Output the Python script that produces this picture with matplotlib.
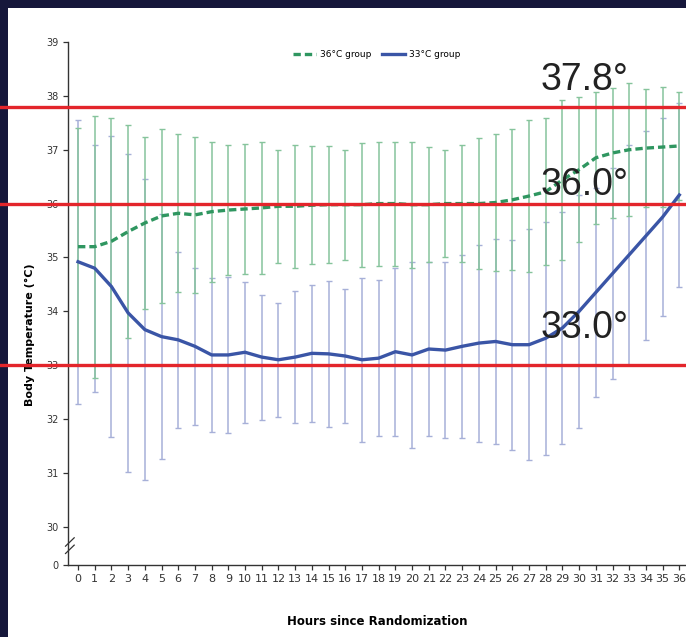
import matplotlib.pyplot as plt
from matplotlib.patches import Rectangle

# hours since randomization
hours = list(range(37))

# 36 C group: mean and SD
warm_mean = [35.20, 35.20, 35.30, 35.48, 35.64, 35.77, 35.82, 35.79, 35.85, 35.88,
             35.90, 35.92, 35.95, 35.95, 35.97, 35.98, 35.98, 35.98, 36.00, 36.00,
             35.98, 35.98, 36.00, 36.00, 36.00, 36.02, 36.07, 36.14, 36.22, 36.44,
             36.63, 36.85, 36.94, 37.00, 37.03, 37.05, 37.07]
warm_sd = [2.20, 2.43, 2.28, 1.98, 1.60, 1.61, 1.47, 1.45, 1.30, 1.21,
           1.20, 1.23, 1.05, 1.14, 1.10, 1.08, 1.02, 1.15, 1.15, 1.15,
           1.17, 1.07, 1.00, 1.09, 1.21, 1.27, 1.31, 1.41, 1.36, 1.48,
           1.34, 1.23, 1.20, 1.23, 1.09, 1.12, 1.01]

# 33 C group: mean and SD
cool_mean = [34.92, 34.80, 34.46, 33.97, 33.66, 33.53, 33.47, 33.35, 33.19, 33.19,
             33.24, 33.15, 33.10, 33.15, 33.22, 33.21, 33.17, 33.10, 33.13, 33.25,
             33.19, 33.30, 33.28, 33.35, 33.41, 33.44, 33.38, 33.38, 33.50, 33.69,
             34.00, 34.35, 34.70, 35.05, 35.40, 35.75, 36.16]
cool_sd = [2.64, 2.29, 2.80, 2.95, 2.80, 2.27, 1.64, 1.46, 1.43, 1.45,
           1.31, 1.16, 1.06, 1.23, 1.27, 1.36, 1.25, 1.52, 1.45, 1.56,
           1.73, 1.62, 1.63, 1.70, 1.83, 1.90, 1.95, 2.14, 2.16, 2.15,
           2.16, 1.94, 1.96, 2.04, 1.94, 1.83, 1.70]

ref_levels = [37.8, 36.0, 33.0]
ref_labels = ["37.8°", "36.0°", "33.0°"]
ref_label_y = [38.11, 36.16, 33.51]

y_ticks = [30, 31, 32, 33, 34, 35, 36, 37, 38, 39]
y_bottom = 29.29

narrow = ["Liberation Sans Narrow", "DejaVu Sans"]

fig = plt.figure(figsize=(6.86, 6.37), dpi=100)
fig.patch.set_facecolor("#16173b")
fig.add_artist(Rectangle((8 / 686, 0), 1, 1 - 8 / 637, transform=fig.transFigure,
                         facecolor="white", edgecolor="none", zorder=0))

ax = fig.add_axes([68 / 686, 72 / 637, 618 / 686, 523 / 637])
ax.set_facecolor("none")

ax.errorbar(hours, cool_mean, yerr=cool_sd, fmt="none", ecolor="#a7b0d8",
            elinewidth=1.1, capsize=2.5, capthick=1.0, zorder=2)
ax.errorbar(hours, warm_mean, yerr=warm_sd, fmt="none", ecolor="#86c49c",
            elinewidth=1.1, capsize=2.5, capthick=1.0, zorder=2)
ax.plot(hours, warm_mean, color="#2f9660", lw=2.4, ls=(0, (2.2, 1.2)),
        label="36°C group", zorder=4)
ax.plot(hours, cool_mean, color="#3a55a6", lw=2.4, label="33°C group", zorder=4)

for lvl in ref_levels:
    ax.axhline(lvl, xmin=-0.2, xmax=1.1, color="#e3252b", lw=2.4,
               clip_on=False, zorder=5)
for txt, ty in zip(ref_labels, ref_label_y):
    ax.text(27.7, ty, txt, fontsize=27, family="Liberation Sans",
            color="#222222", ha="left", va="baseline", zorder=6)

ax.set_xlim(-0.6, 36.4)
ax.set_ylim(y_bottom, 39)
ax.set_xticks(hours)
ax.set_xticklabels([str(h) for h in hours], family=narrow, fontsize=8)
ax.set_yticks([y_bottom] + y_ticks)
ax.set_yticklabels(["0"] + [str(t) for t in y_ticks], family=narrow, fontsize=7)
ax.tick_params(direction="out", length=3.5, width=0.9, colors="#333333", pad=3)

for side in ["top", "right"]:
    ax.spines[side].set_visible(False)
for side in ["left", "bottom"]:
    ax.spines[side].set_linewidth(1.0)
    ax.spines[side].set_color("#333333")

# axis break marks
for dy in [0.030, 0.044]:
    ax.plot([-0.004, 0.010], [dy - 0.008, dy + 0.008], transform=ax.transAxes,
            color="#333333", lw=0.9, clip_on=False, zorder=6)

ax.set_ylabel("Body Temperature (°C)", fontsize=8, fontweight="bold",
              family="DejaVu Sans")
ax.yaxis.set_label_coords(-0.053, 0.44)
ax.set_xlabel("Hours since Randomization", fontsize=8.5, fontweight="bold",
              family=narrow, labelpad=22)

ax.legend(loc="upper center", bbox_to_anchor=(0.5, 1.0), ncol=2, frameon=False,
          handlelength=2.5, columnspacing=1.2, handletextpad=0.5,
          prop={"family": narrow, "size": 6.5})

fig.savefig("out.png", dpi=100)
